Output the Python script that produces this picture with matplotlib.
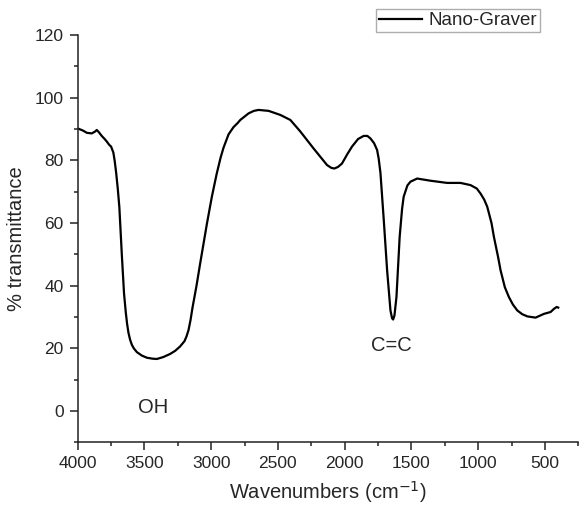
import matplotlib
matplotlib.use('Agg')
import matplotlib.pyplot as plt
from matplotlib.ticker import MultipleLocator

# values
wavenumber = [4000, 3960, 3932, 3895, 3870, 3857, 3840, 3820, 3800, 3782, 3765, 3750,
              3733, 3722, 3712, 3700, 3688, 3670, 3653, 3640, 3630, 3620, 3608, 3595,
              3580, 3557, 3520, 3482, 3440, 3407, 3360, 3308, 3270, 3233, 3200, 3185,
              3170, 3155, 3140, 3110, 3083, 3032, 2995, 2960, 2930, 2908, 2870, 2833,
              2800, 2782, 2720, 2680, 2645, 2570, 2482, 2407, 2332, 2233, 2132, 2100,
              2077, 2050, 2020, 1980, 1945, 1900, 1858, 1830, 1807, 1780, 1757, 1745,
              1732, 1707, 1682, 1657, 1645, 1637, 1627, 1612, 1600, 1588, 1570, 1558,
              1530, 1507, 1457, 1357, 1232, 1132, 1057, 1010, 982, 955, 932, 900, 882,
              850, 832, 800, 770, 740, 707, 670, 632, 570, 507, 457, 432, 412, 400]
transmittance = [90.2, 89.5, 88.8, 88.6, 89.2, 89.7, 88.9, 87.8, 86.9, 86.0, 85.0, 84.4,
                 82.5, 79.5, 76.0, 71.0, 65.0, 50.2, 37.5, 31.5, 27.8, 25.0, 22.8, 21.2,
                 20.0, 18.8, 17.7, 17.0, 16.7, 16.6, 17.2, 18.2, 19.2, 20.6, 22.3, 23.8,
                 25.8, 29.0, 33.0, 40.0, 47.0, 59.8, 68.4, 75.5, 80.8, 84.0, 88.3, 90.6,
                 92.0, 92.9, 95.0, 95.8, 96.1, 95.8, 94.5, 92.9, 89.2, 83.8, 78.5, 77.6,
                 77.4, 77.9, 79.0, 82.0, 84.4, 86.8, 87.8, 87.8, 87.0, 85.5, 83.3, 80.5,
                 76.0, 60.9, 44.9, 32.1, 29.6, 29.2, 30.5, 36.4, 46.0, 55.6, 64.5, 68.4,
                 72.0, 73.2, 74.2, 73.5, 72.8, 72.8, 72.1, 71.0, 69.4, 67.5, 65.2, 60.0,
                 55.6, 49.0, 44.9, 39.5, 36.4, 34.0, 32.1, 30.9, 30.2, 29.8, 31.0, 31.6,
                 32.6, 33.2, 33.0]

x_ticks = [4000, 3500, 3000, 2500, 2000, 1500, 1000, 500]
y_ticks = [0, 20, 40, 60, 80, 100, 120]
band_labels = ['OH', 'C=C']
band_pos = [(3433, 1.0), (1650, 20.9)]

plt.rcParams['font.family'] = ['Liberation Sans', 'DejaVu Sans']
text_color = '#262626'

fig = plt.figure(figsize=(5.8, 5.08), dpi=100)
ax = fig.add_axes([0.134, 0.1293, 0.863, 0.8017])

ax.plot(wavenumber, transmittance, color='black', linewidth=1.6,
        solid_joinstyle='round', label='Nano-Graver')

ax.set_xlim(4000, 250)
ax.set_ylim(-10, 120)
ax.set_xticks(x_ticks)
ax.set_yticks(y_ticks)
ax.xaxis.set_minor_locator(MultipleLocator(250))
ax.yaxis.set_minor_locator(MultipleLocator(10))

for side in ['top', 'right']:
    ax.spines[side].set_visible(False)
for side in ['left', 'bottom']:
    ax.spines[side].set_linewidth(1.1)
    ax.spines[side].set_color('#222222')

ax.tick_params(which='major', direction='out', length=6, width=1.1,
               labelsize=12.5, colors='#222222', labelcolor=text_color, pad=4)
ax.tick_params(which='minor', direction='out', length=3, width=1.1, colors='#222222')

ax.set_xlabel('Wavenumbers (cm$^{-1}$)', fontsize=14.5, color=text_color, labelpad=6)
ax.set_ylabel('% transmittance', fontsize=14.5, color=text_color, labelpad=6)

for lab, (wx, ty) in zip(band_labels, band_pos):
    ax.text(wx, ty, lab, fontsize=14.5, color=text_color, ha='center', va='center')

leg = fig.legend(loc='upper right', bbox_to_anchor=(0.931, 0.982), fontsize=13.5,
                 frameon=True, fancybox=False, handlelength=2.3, handletextpad=0.35,
                 borderpad=0.15, borderaxespad=0)
leg.get_frame().set_edgecolor('#999999')
leg.get_frame().set_linewidth(1.0)
for t in leg.get_texts():
    t.set_color(text_color)

fig.savefig('out.png', dpi=100)
